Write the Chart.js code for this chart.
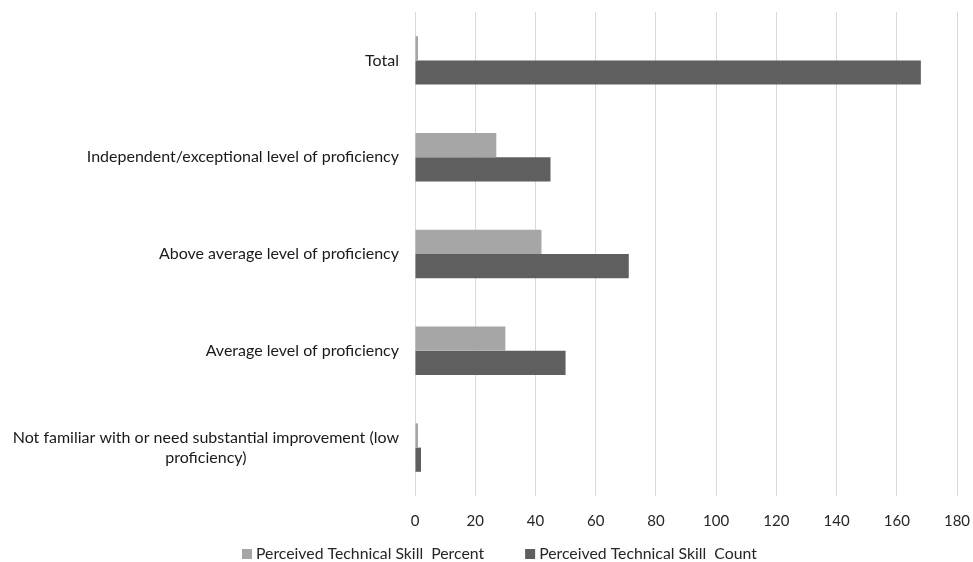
<!DOCTYPE html>
<html>
<head>
<meta charset="utf-8">
<script src="https://cdn.jsdelivr.net/npm/chart.js@4.4.1/dist/chart.umd.min.js"></script>
<style>
  html, body { margin: 0; padding: 0; background: #ffffff; }
  #wrap { width: 973px; height: 562px; position: relative; }
</style>
</head>
<body>
<div id="wrap"><canvas id="chart" width="973" height="562"></canvas></div>
<script>
// Proficiency levels, top to bottom
const categories = [
  ['Total'],
  ['Independent/exceptional level of proficiency'],
  ['Above average level of proficiency '],
  ['Average level of proficiency '],
  ['Not familiar with or need substantial improvement (low', 'proficiency)']
];
const percentValues = [1, 27, 42, 30, 1];
const countValues = [168, 45, 71, 50, 2];
const xTicks = [0, 20, 40, 60, 80, 100, 120, 140, 160, 180];

const FONT = 'Lato, "Open Sans", sans-serif';
const LABEL_SIZE = 16;

// Category labels: each one a centred text block ending just left of the plot
const categoryLabels = {
  id: 'categoryLabels',
  afterDraw(chart) {
    const ctx = chart.ctx;
    const y = chart.scales.y;
    ctx.save();
    ctx.font = LABEL_SIZE + 'px ' + FONT;
    ctx.fillStyle = '#1a1a1a';
    ctx.textAlign = 'center';
    ctx.textBaseline = 'middle';
    const lineH = 20;
    const right = chart.chartArea.left - 16;
    categories.forEach((lines, i) => {
      const cy = y.getPixelForTick(i);
      const w = Math.max(...lines.map(l => ctx.measureText(l.trimEnd()).width));
      const cx = right - w / 2;
      const top = cy - (lines.length - 1) * lineH / 2;
      lines.forEach((l, k) => ctx.fillText(l.trimEnd(), cx, top + k * lineH));
    });
    ctx.restore();
  }
};

// Legend row along the bottom edge, built from the dataset labels and colours
const bottomLegend = {
  id: 'bottomLegend',
  afterDraw(chart) {
    const ctx = chart.ctx;
    ctx.save();
    ctx.font = '15.8px ' + FONT;
    ctx.textBaseline = 'middle';
    ctx.textAlign = 'left';
    const cy = 554;
    let x = 242;
    chart.data.datasets.forEach(ds => {
      ctx.fillStyle = ds.backgroundColor;
      ctx.fillRect(x, cy - 5, 10, 10);
      x += 14;
      ctx.fillStyle = '#262626';
      ctx.fillText(ds.label, x, cy);
      x += ctx.measureText(ds.label).width + 41;
    });
    ctx.restore();
  }
};

new Chart(document.getElementById('chart'), {
  type: 'bar',
  data: {
    labels: categories,
    datasets: [
      {
        label: 'Perceived Technical Skill  Percent',
        data: percentValues,
        backgroundColor: '#a6a6a6',
        categoryPercentage: 0.5,
        barPercentage: 1
      },
      {
        label: 'Perceived Technical Skill  Count',
        data: countValues,
        backgroundColor: '#5f5f5f',
        categoryPercentage: 0.5,
        barPercentage: 1
      }
    ]
  },
  options: {
    indexAxis: 'y',
    responsive: false,
    animation: false,
    layout: { padding: { top: 12, right: 0, left: 0, bottom: 16 } },
    scales: {
      x: {
        min: 0,
        max: 180,
        afterBuildTicks(scale) { scale.ticks = xTicks.map(v => ({ value: v })); },
        afterFit(scale) { scale.paddingRight = 16; },
        grid: { color: '#d9d9d9', lineWidth: 1, drawTicks: false },
        border: { display: false },
        ticks: {
          color: '#262626',
          padding: 16,
          font: { family: FONT, size: 15 }
        }
      },
      y: {
        grid: { display: false },
        border: { display: false },
        ticks: { display: false },
        afterFit(scale) { scale.width = 415; }
      }
    },
    plugins: {
      legend: { display: false },
      tooltip: { enabled: false }
    }
  },
  plugins: [categoryLabels, bottomLegend]
});
</script>
</body>
</html>
